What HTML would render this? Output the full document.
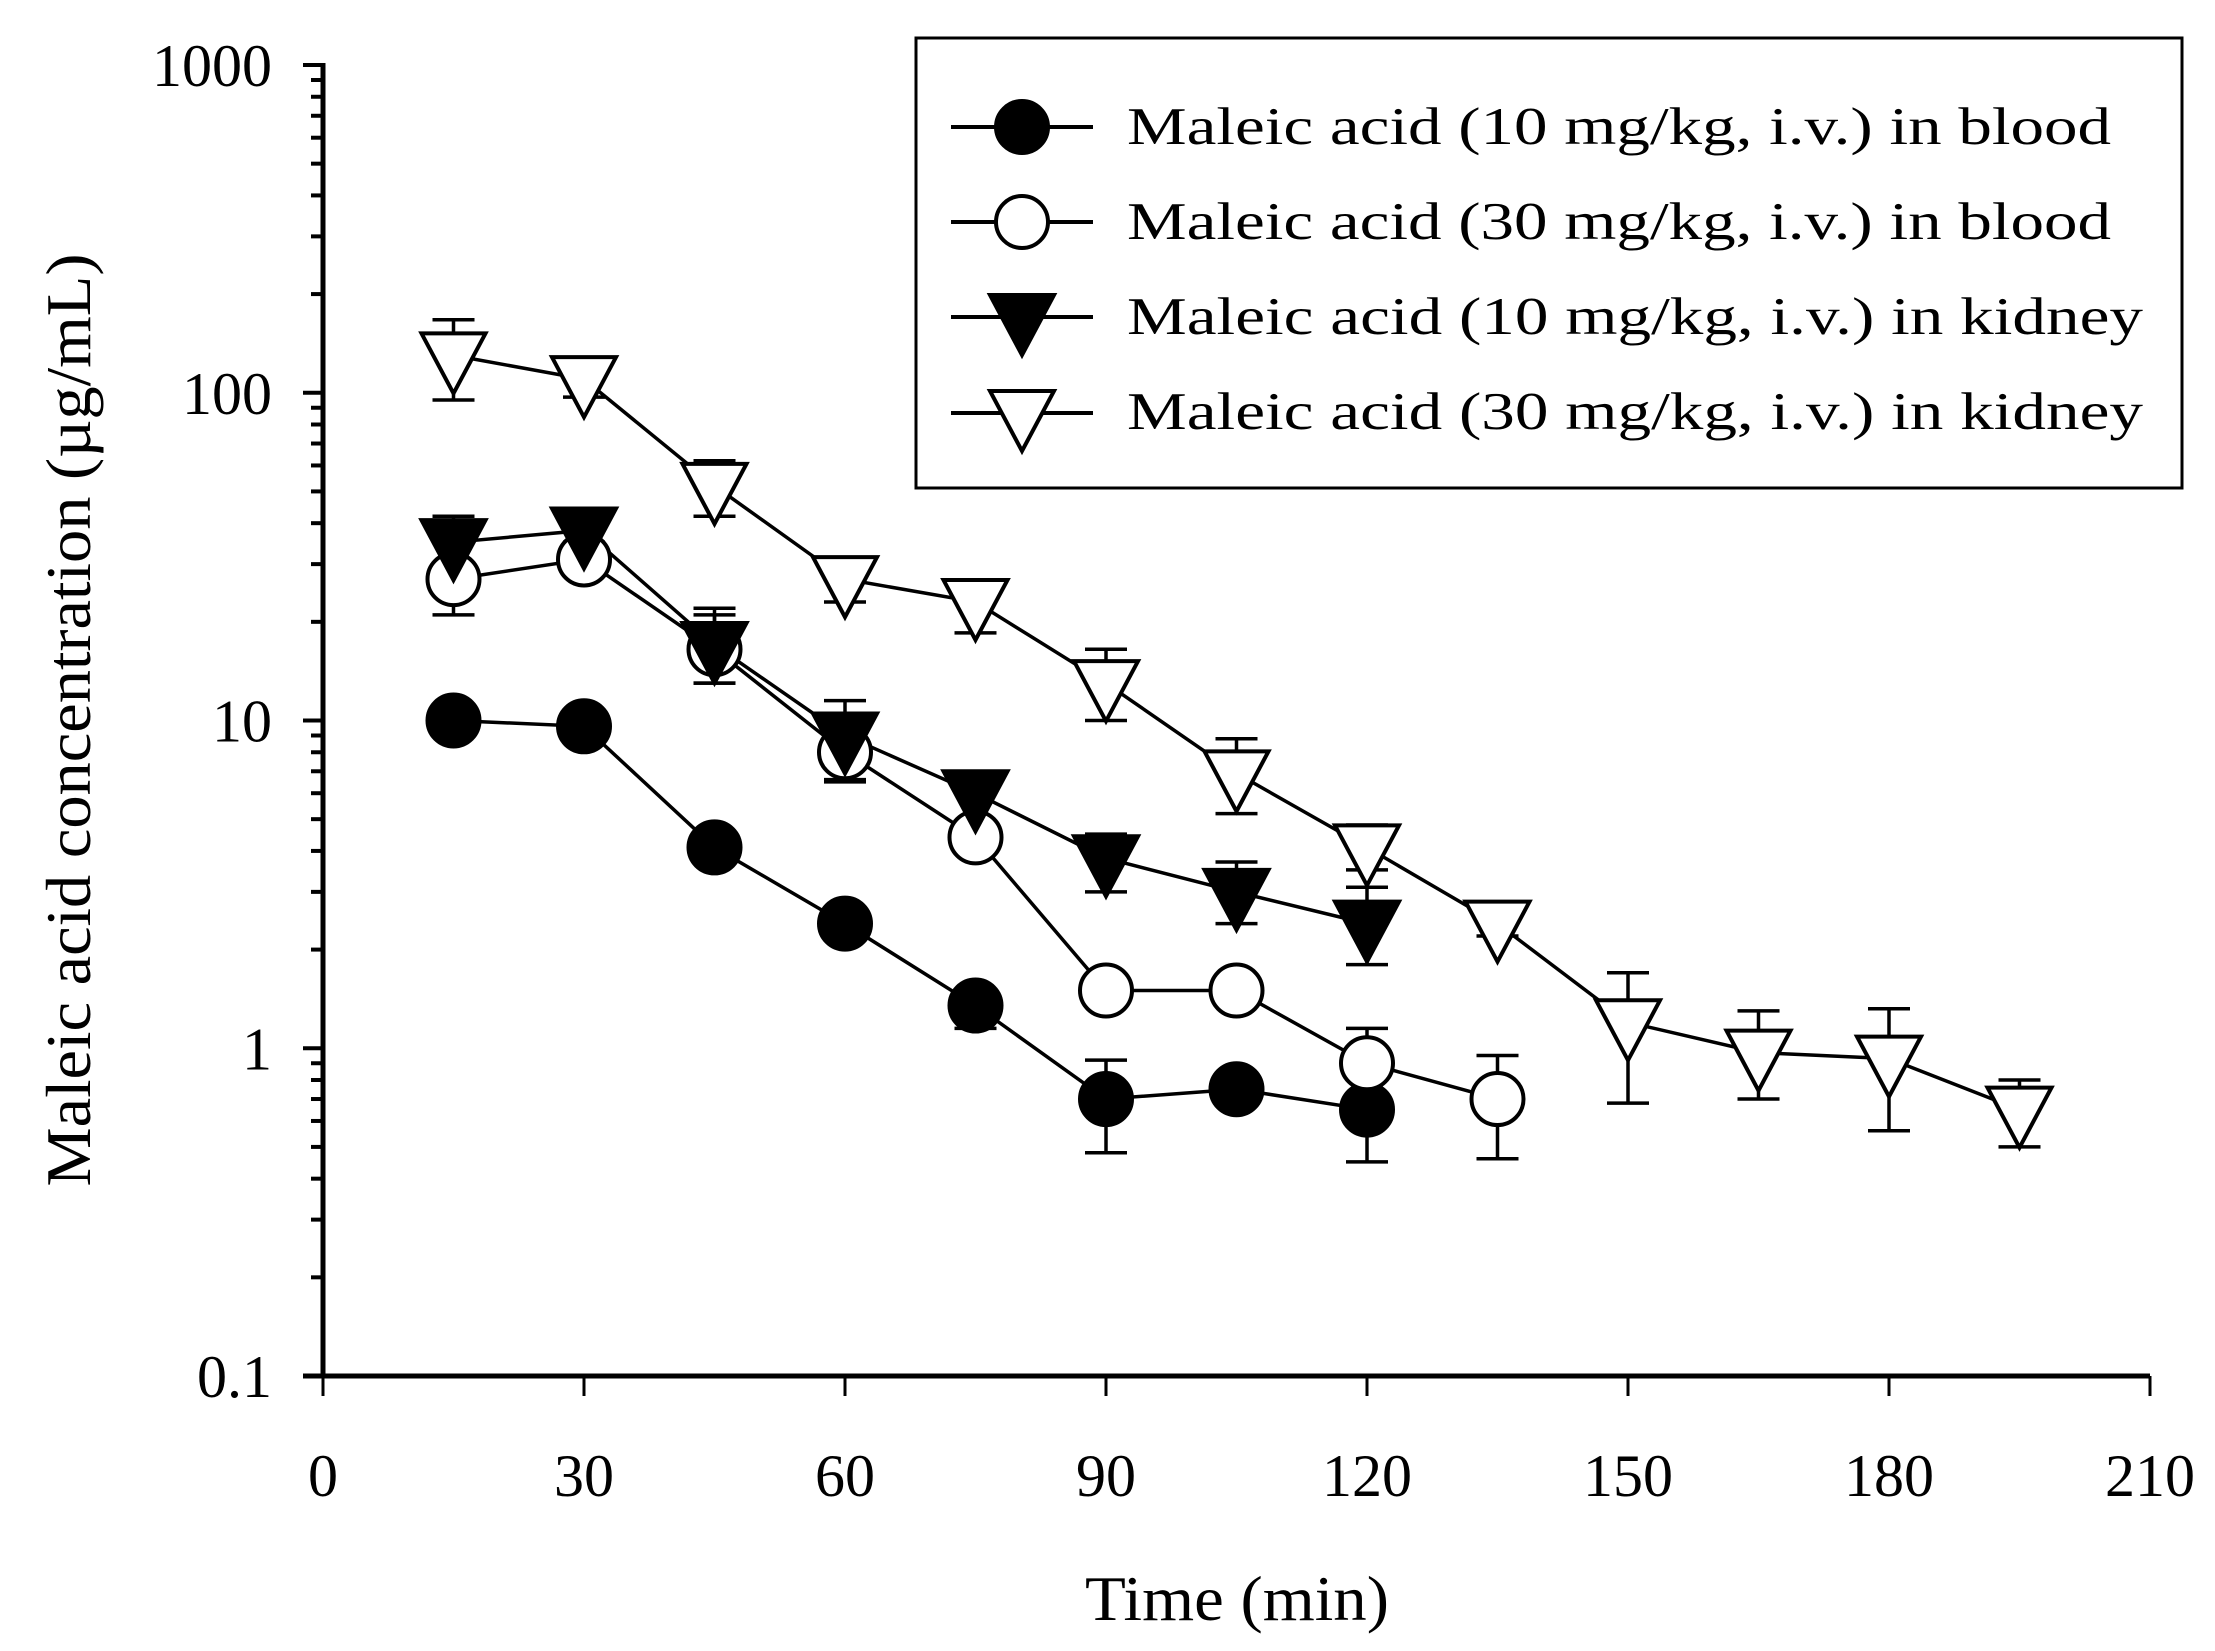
<!DOCTYPE html>
<html><head><meta charset="utf-8"><style>
html,body{margin:0;padding:0;background:#fff;}
svg{display:block;}
text{font-family:"Liberation Serif",serif;fill:#000;}
</style></head><body>
<svg id="s" width="2215" height="1651" xmlns="http://www.w3.org/2000/svg">
<rect width="2215" height="1651" fill="#fff"/>
<g id="axes" stroke="#000" fill="none"></g>
<g id="plot"></g>
<text x="1237" y="1620" font-size="64" text-anchor="middle" textLength="304" lengthAdjust="spacingAndGlyphs">Time (min)</text>
<text transform="translate(90,720) rotate(-90)" font-size="64" text-anchor="middle" textLength="933" lengthAdjust="spacingAndGlyphs">Maleic acid concentration (µg/mL)</text>
<rect x="916" y="38" width="1266" height="450" fill="#fff" stroke="#000" stroke-width="3"/>
<g id="leg"></g>
<text x="1127" y="144" font-size="53" textLength="984" lengthAdjust="spacingAndGlyphs">Maleic acid (10 mg/kg, i.v.) in blood</text>
<text x="1127" y="239" font-size="53" textLength="984" lengthAdjust="spacingAndGlyphs">Maleic acid (30 mg/kg, i.v.) in blood</text>
<text x="1127" y="334" font-size="53" textLength="1016" lengthAdjust="spacingAndGlyphs">Maleic acid (10 mg/kg, i.v.) in kidney</text>
<text x="1127" y="429" font-size="53" textLength="1016" lengthAdjust="spacingAndGlyphs">Maleic acid (30 mg/kg, i.v.) in kidney</text>
</svg>
<script>
var NS="http://www.w3.org/2000/svg";
function el(p,t,a,txt){var e=document.createElementNS(NS,t);for(var k in a)e.setAttribute(k,a[k]);if(txt!=null)e.textContent=txt;p.appendChild(e);return e;}
var X0=323,X1=2150,Y0=1376,D=327.75;
function X(t){return X0+(X1-X0)*t/210;}
function Y(v){return Y0-(Math.log10(v)+1)*D;}
var svg=document.getElementById('s'),ax=document.getElementById('axes'),pl=document.getElementById('plot'),lg=document.getElementById('leg');
el(ax,'line',{x1:X0,y1:Y(1000)-2,x2:X0,y2:Y0+2,'stroke-width':5});
el(ax,'line',{x1:X0-20,y1:Y0,x2:X1,y2:Y0,'stroke-width':5});
for(var d=-1;d<=3;d++){var b=Math.pow(10,d);
 el(ax,'line',{x1:X0-20,y1:Y(b),x2:X0,y2:Y(b),'stroke-width':4});
 var lab=d==-1?'0.1':String(b);
 el(svg,'text',{x:272,y:Y(b)+21,'font-size':60,'text-anchor':'end'},lab);
 if(d<3)for(var m=2;m<=9;m++)el(ax,'line',{x1:X0-12,y1:Y(b*m),x2:X0,y2:Y(b*m),'stroke-width':4});}
for(var t=0;t<=210;t+=30){el(ax,'line',{x1:X(t),y1:Y0,x2:X(t),y2:Y0+20,'stroke-width':3});
 el(svg,'text',{x:X(t),y:1496,'font-size':60,'text-anchor':'middle'},String(t));}
var S=[
 {m:'c',f:'#000',d:[[15,10],[30,9.6],[45,4.1],[60,2.4],[75,1.35,1.15,1.35],[90,0.7,0.48,0.92],[105,0.75],[120,0.65,0.45,0.85]]},
 {m:'c',f:'#fff',d:[[15,27,21,27],[30,31],[45,16.5,13,21],[60,8,6.6,8],[75,4.4],[90,1.5],[105,1.5],[120,0.9,0.9,1.15],[135,0.7,0.46,0.95]]},
 {m:'t',f:'#000',d:[[15,35,29,42],[30,38,35,40],[45,17,13,22],[60,9,6.5,11.5],[75,6],[90,3.8,3,4.5],[105,3,2.4,3.7],[120,2.4,1.8,3.1]]},
 {m:'t',f:'#fff',d:[[15,130,95,167],[30,110,97,125],[45,52,42,62],[60,27,23,27],[75,23,18.5,26],[90,13,10,16.5],[105,6.9,5.2,8.8],[120,4.1,3.5,4.8],[135,2.4,2.2,2.8],[150,1.2,0.68,1.7],[165,0.97,0.7,1.3],[180,0.93,0.56,1.32],[195,0.65,0.5,0.8]]}];
function mk(p,m,f,x,y){if(m=='c')el(p,'circle',{cx:x,cy:y,r:26,fill:f,stroke:'#000','stroke-width':4});
 else el(p,'polygon',{points:(x-32)+','+(y-22)+' '+(x+32)+','+(y-22)+' '+x+','+(y+38),fill:f,stroke:'#000','stroke-width':4,'stroke-linejoin':'miter'});}
S.forEach(function(s){var pts=s.d.map(function(q){return X(q[0])+','+Y(q[1]);}).join(' ');
 el(pl,'polyline',{points:pts,fill:'none',stroke:'#000','stroke-width':3.5});
 s.d.forEach(function(q){if(q.length>2){var x=X(q[0]);
  el(pl,'line',{x1:x,y1:Y(q[2]),x2:x,y2:Y(q[3]),stroke:'#000','stroke-width':3.5});
  [q[2],q[3]].forEach(function(v){if(v!=q[1])el(pl,'line',{x1:x-21,y1:Y(v),x2:x+21,y2:Y(v),stroke:'#000','stroke-width':3.5});});}});
});
S.forEach(function(s){s.d.forEach(function(q){mk(pl,s.m,s.f,X(q[0]),Y(q[1]));});});
var ly=[127,222,317,413];
S.forEach(function(s,i){el(lg,'line',{x1:951,y1:ly[i],x2:1093,y2:ly[i],stroke:'#000','stroke-width':4});mk(lg,s.m,s.f,1022,ly[i]);});
</script>
</body></html>
